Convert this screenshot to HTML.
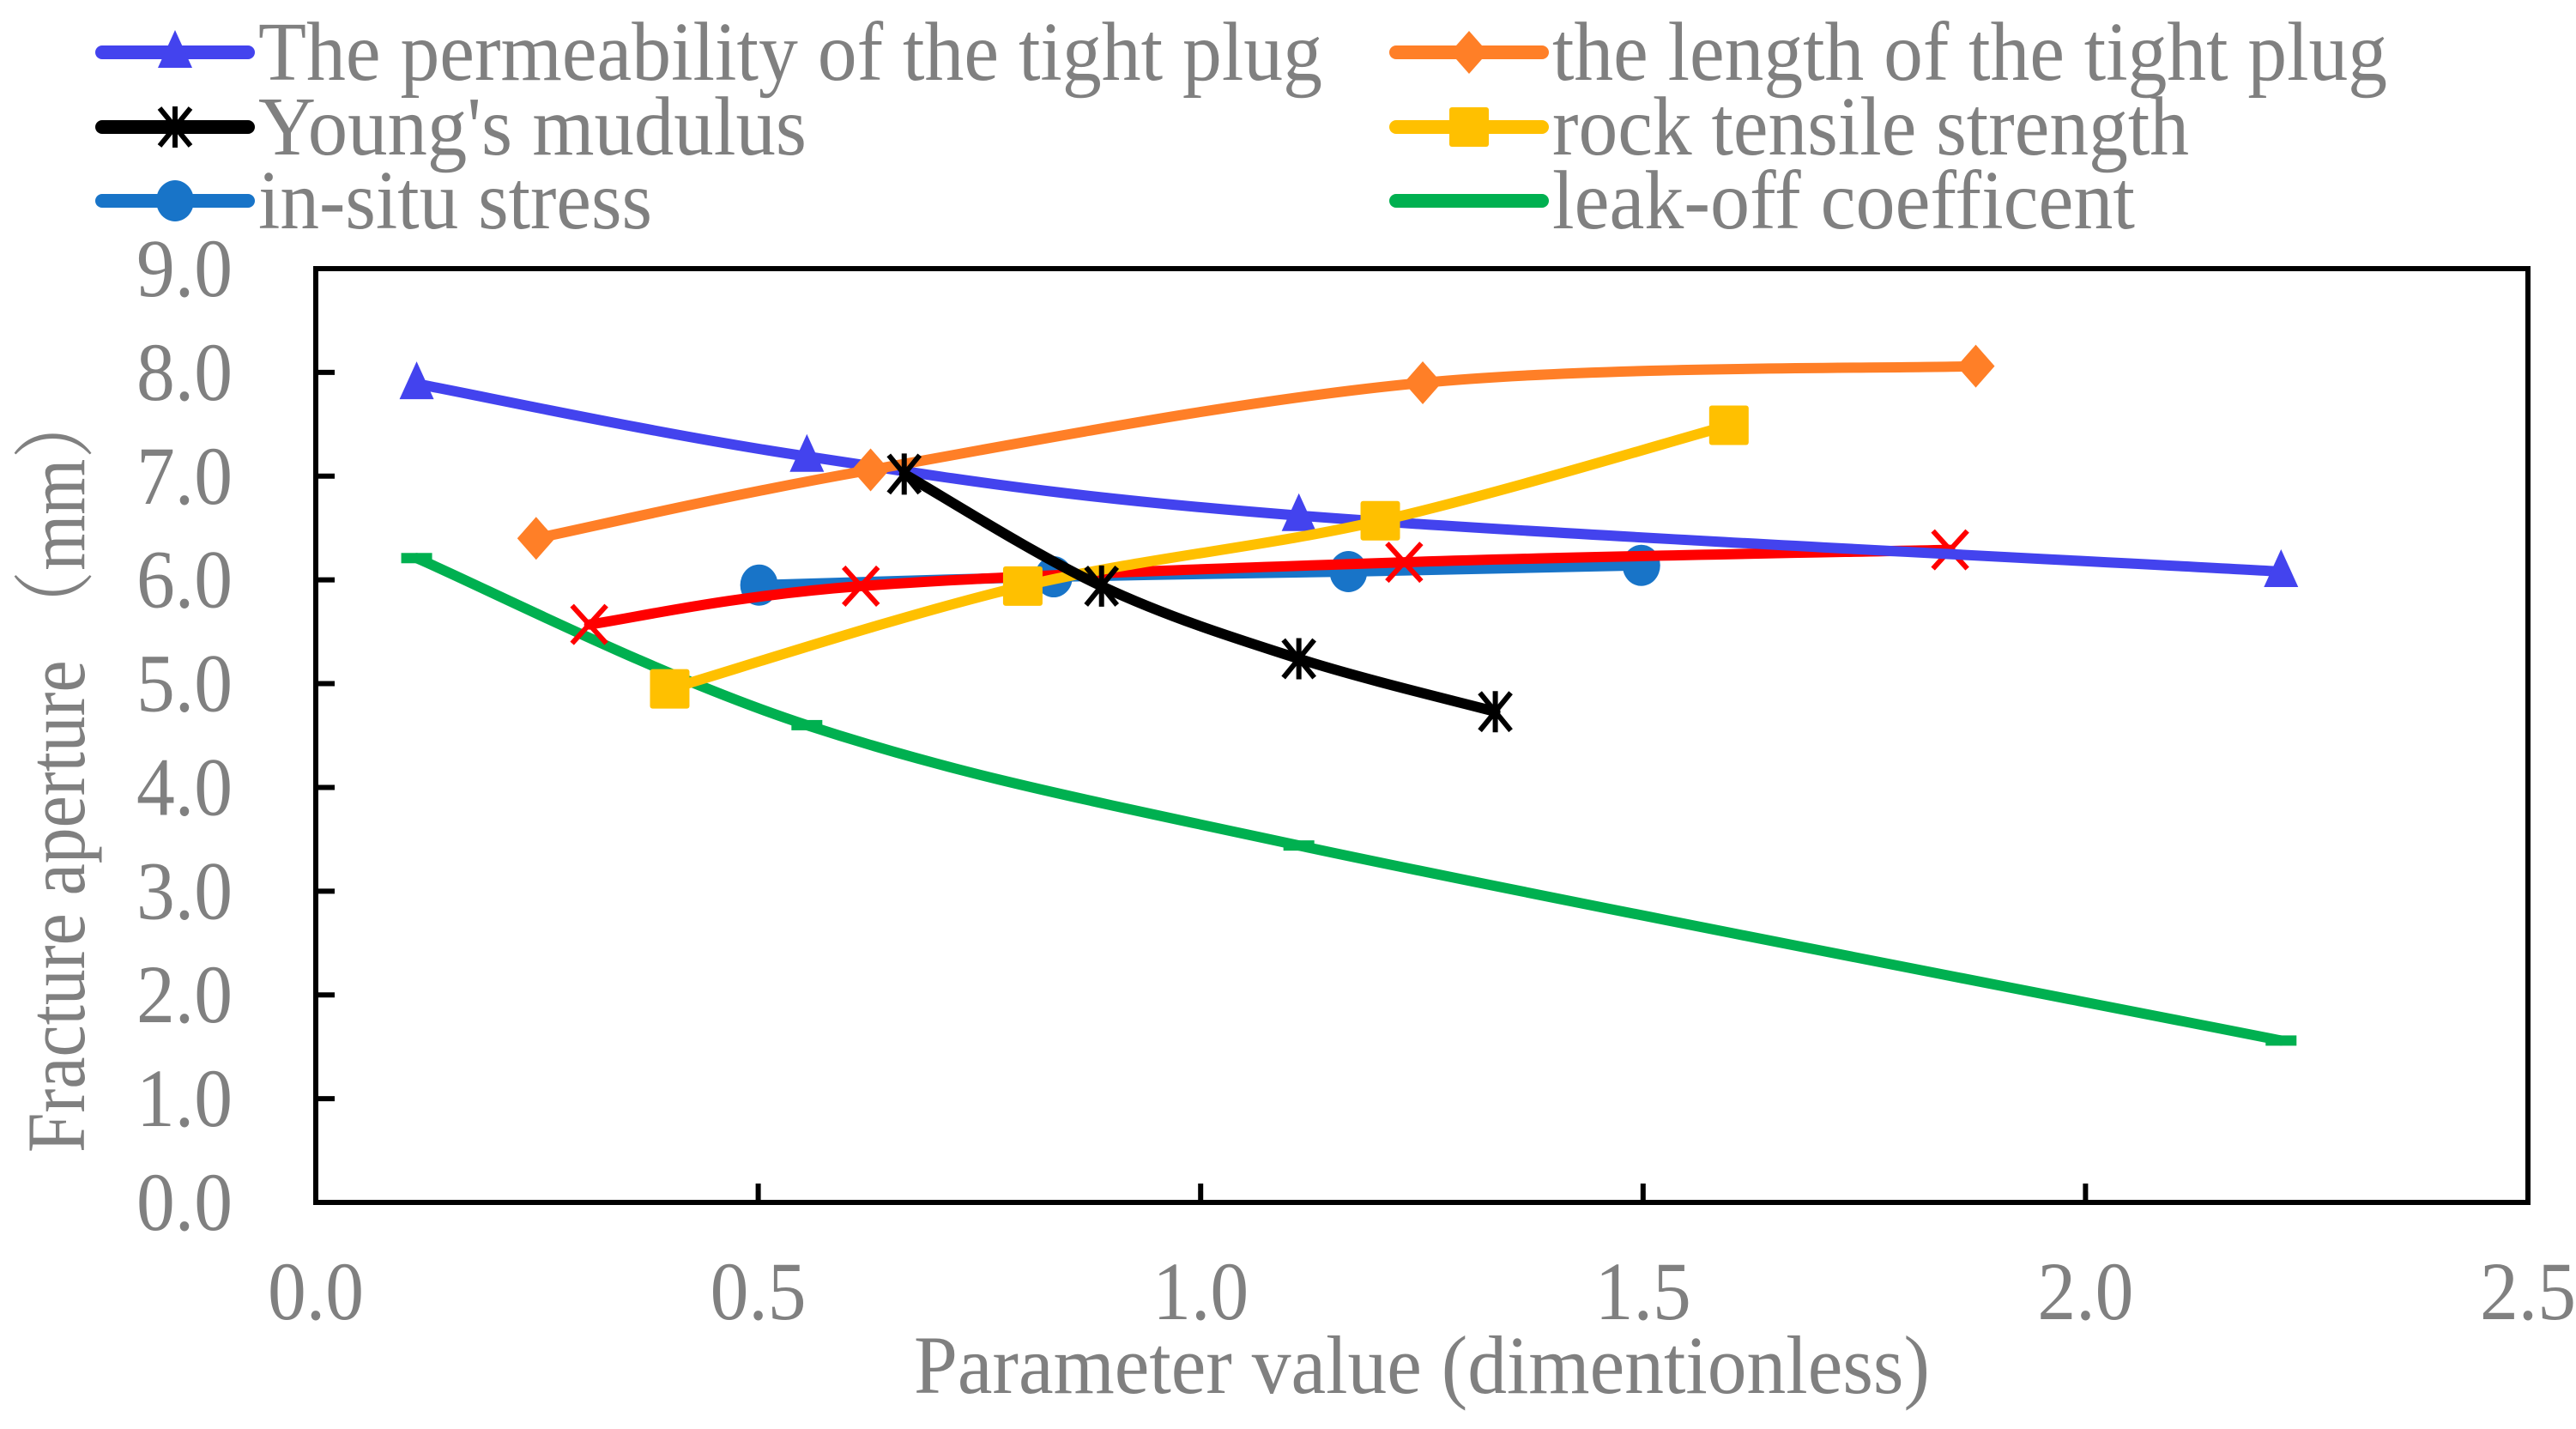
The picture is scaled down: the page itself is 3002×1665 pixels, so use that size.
<!DOCTYPE html>
<html><head><meta charset="utf-8"><style>
html,body{margin:0;padding:0;background:#fff;}
svg{display:block;}
text{font-family:"Liberation Serif",serif;fill:#808080;}
</style></head><body>
<svg id="chart" width="3002" height="1665" viewBox="0 0 3002 1665">
<g id="axes"></g>
<g id="series"></g>
<g id="legend"></g>
</svg>
<script>
const xTicks = [0.0, 0.5, 1.0, 1.5, 2.0, 2.5];
const yTicks = [0,1,2,3,4,5,6,7,8,9];
const permX = [0.114, 0.555, 1.111, 2.221];
const permY = [7.89, 7.19, 6.62, 6.08];
const lenX = [0.249, 0.627, 1.251, 1.876];
const lenY = [6.40, 7.06, 7.90, 8.06];
const youngX = [0.665, 0.888, 1.111, 1.333];
const youngY = [7.02, 5.94, 5.24, 4.73];
const tensileX = [0.400, 0.799, 1.203, 1.597];
const tensileY = [4.95, 5.94, 6.57, 7.49];
const stressX = [0.501, 0.834, 1.167, 1.498];
const stressY = [5.95, 6.03, 6.08, 6.14];
const redX = [0.309, 0.616, 1.230, 1.847];
const redY = [5.57, 5.94, 6.17, 6.29];
const leakX = [0.114, 0.555, 1.111, 2.221];
const leakY = [6.21, 4.60, 3.44, 1.56];

const NS = "http://www.w3.org/2000/svg";
const L = 368, R = 2946, T = 313, B = 1401;
const xs = v => L + (v - 0) / 2.5 * (R - L);
const ys = v => B - v / 9 * (B - T);
function mk(tag, attrs, parent) {
  const e = document.createElementNS(NS, tag);
  for (const k in attrs) e.setAttribute(k, attrs[k]);
  parent.appendChild(e);
  return e;
}
const axes = document.getElementById('axes');
const series = document.getElementById('series');
const legend = document.getElementById('legend');

const frame = mk('rect', {x:L, y:T, width:R-L, height:B-T, fill:'none', stroke:'#000', 'stroke-width':6}, axes);


xTicks.forEach(v => {
  const x = xs(v);
  const tk = mk('line', {x1:x, x2:x, y1:B, y2:B-22, stroke:'#000', 'stroke-width':6}, axes);
  
  
  const t = mk('text', {x:x, y:1537, 'font-size':96, 'text-anchor':'middle', textLength:112, lengthAdjust:'spacingAndGlyphs'}, axes);
  t.textContent = v.toFixed(1);
  
  
});
yTicks.forEach(v => {
  const y = ys(v);
  const tk = mk('line', {x1:L, x2:L+22, y1:y, y2:y, stroke:'#000', 'stroke-width':6}, axes);
  
  
  const t = mk('text', {x:271, y:y+32, 'font-size':96, 'text-anchor':'end', textLength:112, lengthAdjust:'spacingAndGlyphs'}, axes);
  t.textContent = v.toFixed(1);
  
  
});
const xt = mk('text', {x:1657, y:1623, 'font-size':96, 'text-anchor':'middle', textLength:1184, lengthAdjust:'spacingAndGlyphs'}, axes);
xt.textContent = 'Parameter value (dimentionless)';


const yt = mk('text', {x:0, y:0, 'font-size':96, 'text-anchor':'middle', textLength:892, lengthAdjust:'spacingAndGlyphs', transform:'translate(98,897) rotate(-90)'}, axes);
yt.textContent = 'Fracture aperture （mm）';
yt.style.fontFamily = '"Liberation Serif","Noto Serif CJK SC",serif';



function smoothPath(pts) {
  let d = `M${pts[0][0]},${pts[0][1]}`;
  for (let i = 0; i < pts.length - 1; i++) {
    const p0 = pts[i-1] || pts[i], p1 = pts[i], p2 = pts[i+1], p3 = pts[i+2] || p2;
    const c1 = [p1[0] + (p2[0]-p0[0])/6, p1[1] + (p2[1]-p0[1])/6];
    const c2 = [p2[0] - (p3[0]-p1[0])/6, p2[1] - (p3[1]-p1[1])/6];
    d += ` C${c1[0]},${c1[1]} ${c2[0]},${c2[1]} ${p2[0]},${p2[1]}`;
  }
  return d;
}
function marker(type, x, y, color, g) {
  let e;
  if (type === 'tri') e = mk('polygon', {points:`${x},${y-26} ${x-20},${y+18} ${x+20},${y+18}`, fill:color}, g);
  else if (type === 'dia') e = mk('polygon', {points:`${x},${y-25} ${x+22},${y} ${x},${y+25} ${x-22},${y}`, fill:color}, g);
  else if (type === 'sq') e = mk('rect', {x:x-23, y:y-23, width:46, height:46, fill:color, rx:3}, g);
  else if (type === 'circ') e = mk('ellipse', {cx:x, cy:y, rx:22, ry:24, fill:color}, g);
  else if (type === 'dash') e = mk('rect', {x:x-18, y:y-6, width:36, height:12, fill:color}, g);
  else if (type === 'x') e = mk('path', {d:`M${x-20},${y-22}L${x+20},${y+22}M${x+20},${y-22}L${x-20},${y+22}`, stroke:color, 'stroke-width':6, fill:'none'}, g);
  else if (type === 'star') e = mk('path', {d:`M${x-18},${y-22}L${x+18},${y+22}M${x+18},${y-22}L${x-18},${y+22}M${x},${y-24}L${x},${y+24}`, stroke:color, 'stroke-width':6, fill:'none'}, g);
  
  
}
const defs = [
  {name:'permeability', xs:permX, ys:permY, color:'#4343EE', m:'tri', label:'The permeability of the tight plug', lx:119, ty:61, tl:1240},
  {name:'plug-length', xs:lenX, ys:lenY, color:'#FF7F27', m:'dia', label:'the length of the tight plug', lx:1627, ty:61, tl:973},
  {name:'youngs-modulus', xs:youngX, ys:youngY, color:'#000000', m:'star', label:"Young's mudulus", lx:119, ty:148, tl:639},
  {name:'tensile-strength', xs:tensileX, ys:tensileY, color:'#FFC000', m:'sq', label:'rock tensile strength', lx:1627, ty:148, tl:742},
  {name:'in-situ-stress', xs:stressX, ys:stressY, color:'#1874C8', m:'circ', label:'in-situ stress', lx:119, ty:234, tl:459},
  {name:'leak-off', xs:leakX, ys:leakY, color:'#00B050', m:'dash', label:'leak-off coefficent', lx:1627, ty:234, tl:679},
  {name:'red-series', xs:redX, ys:redY, color:'#FF0000', m:'x', label:null}
];
const order = ['leak-off','in-situ-stress','red-series','permeability','tensile-strength','plug-length','youngs-modulus'];
order.forEach(n => {
  const s = defs.find(d => d.name === n);
  const g = mk('g', {}, series);
  
  
  const pts = s.xs.map((v,i) => [xs(v), ys(s.ys[i])]);
  const p = mk('path', {d:smoothPath(pts), fill:'none', stroke:s.color, 'stroke-width':12, 'stroke-linecap':'round', 'stroke-linejoin':'round'}, g);
  
  
  pts.forEach(pt => marker(s.m, pt[0], pt[1], s.color, g));
});
defs.filter(d => d.label).forEach(s => {
  const g = mk('g', {}, legend);
  
  
  const ln = mk('line', {x1:s.lx, x2:s.lx+170, y1:s.ty, y2:s.ty, stroke:s.color, 'stroke-width':16, 'stroke-linecap':'round'}, g);
  
  
  marker(s.m, s.lx+85, s.ty, s.color, g);
  const t = mk('text', {x:s.lx+182, y:s.ty+32, 'font-size':98, textLength:s.tl, lengthAdjust:'spacingAndGlyphs'}, g);
  t.textContent = s.label;
  
  
});
</script>
</body></html>
